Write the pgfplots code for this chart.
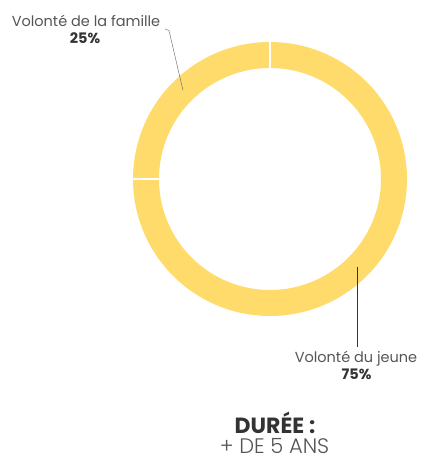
\documentclass[border=0pt]{standalone}
\usepackage{fontspec}
\setmainfont{Poppins}
\newfontfamily\light{Poppins Light}
\usepackage{pgfplots}
\usepackage{pgfplotstable}
\pgfplotsset{compat=1.18}
\definecolor{ring}{HTML}{FFDB6B}
\definecolor{lbl}{HTML}{555555}
\definecolor{dark}{HTML}{333333}

% share of each answer, in percent
\pgfplotstableread{
label value
famille 25
jeune 75
}\shares

\begin{document}
\begin{tikzpicture}
\pgfplotstablegetelem{0}{value}\of\shares \let\vA\pgfplotsretval
\pgfplotstablegetelem{1}{value}\of\shares \let\vB\pgfplotsretval
\pgfmathsetmacro\aA{90}
\pgfmathsetmacro\aB{90+3.6*\vA}
\pgfmathsetmacro\aC{\aB+3.6*\vB}
\def\R{137pt}\def\r{111pt}
\begin{axis}[
  width=421pt, height=458pt, scale only axis,
  xmin=0, xmax=421, ymin=0, ymax=458,
  hide axis, clip=false]
\coordinate (ll) at (axis cs:0,0);
\coordinate (ur) at (axis cs:421,458);
% ring segments
\fill[ring] (axis cs:270,279) ++(\aA:\R) arc[start angle=\aA, end angle=\aB, radius=\R]
  -- ([shift={(\aB:\r)}]axis cs:270,279) arc[start angle=\aB, end angle=\aA, radius=\r] -- cycle;
\fill[ring] (axis cs:270,279) ++(\aB:\R) arc[start angle=\aB, end angle=\aC, radius=\R]
  -- ([shift={(\aC:\r)}]axis cs:270,279) arc[start angle=\aC, end angle=\aB, radius=\r] -- cycle;
% gaps
\draw[white, line width=2pt] (axis cs:270,279) -- ++(\aA:145pt);
\draw[white, line width=2pt] (axis cs:270,279) -- ++(\aB:145pt);
% leaders
\draw[lbl!80, line width=0.5pt] (axis cs:165,429) -- (axis cs:169,427.5) -- (axis cs:183,367.5);
\draw[dark, line width=0.6pt] (axis cs:357,191) -- (axis cs:357,111);
% labels
\tikzset{lab/.style={inner sep=0pt, anchor=base, font=\fontsize{14.5}{16}\selectfont}}
\node[lab, lbl] at (axis cs:86,431) {Volonté de la famille};
\node[lab, dark, font=\fontsize{14.5}{16}\selectfont\bfseries] at (axis cs:85,414) {25\%};
\node[lab, lbl] at (axis cs:356,95.5) {Volonté du jeune};
\node[lab, dark, font=\fontsize{14.5}{16}\selectfont\bfseries] at (axis cs:356.5,78.5) {75\%};
\node[inner sep=0pt, anchor=base, dark, font=\fontsize{22}{24}\selectfont\bfseries] at (axis cs:275,24) {DURÉE :};
\node[inner sep=0pt, anchor=base, lbl, font=\fontsize{21}{24}\selectfont\light] at (axis cs:274.5,5) {+ DE 5 ANS};
\end{axis}
\pgfresetboundingbox
\path[use as bounding box] (ll) rectangle (ur);
\end{tikzpicture}
\end{document}
